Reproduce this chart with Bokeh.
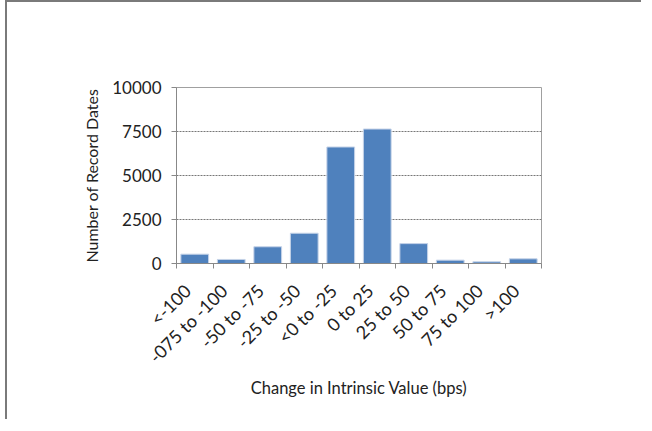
import math
from bokeh.plotting import figure
from bokeh.models import FixedTicker, Range1d, ColumnDataSource
from bokeh.embed import file_html
from bokeh.resources import INLINE

categories = ["<-100", "-075 to -100", "-50 to -75", "-25 to -50", "<0 to -25",
              "0 to 25", "25 to 50", "50 to 75", "75 to 100", ">100"]
counts = [530, 230, 950, 1720, 6620, 7640, 1130, 190, 95, 265]
y_ticks = [0, 2500, 5000, 7500, 10000]

xs = list(range(1, len(categories) + 1))
src = ColumnDataSource(dict(x=xs, top=counts))

FONT = "Lato"
p = figure(width=640, height=423, output_backend="svg", toolbar_location=None,
           x_range=Range1d(0.5, len(categories) + 0.5), y_range=Range1d(0, 10000),
           frame_width=365, frame_height=176,
           min_border_left=169, min_border_right=100, min_border_top=85, min_border_bottom=156)
p.styles = {"border-top": "2px solid #7a7a7a", "border-left": "2px solid #7a7a7a",
            "margin-left": "5px", "margin-top": "0px"}

p.vbar(x="x", top="top", width=0.76, source=src, fill_color="#4F81BD",
       line_color="#c5d3e8", line_width=1)

p.outline_line_color = "#a0a0a0"
p.outline_line_width = 1

# x axis: labels anchored slightly left of bar centres, ticks at category boundaries
label_pos = [x - 0.2 for x in xs]
xa = p.xaxis[0]
xa.ticker = FixedTicker(ticks=label_pos, minor_ticks=[i + 0.5 for i in range(0, len(categories) + 1)])
xa.major_label_overrides = {lp: c for lp, c in zip(label_pos, categories)}
xa.major_label_orientation = math.pi / 4
xa.major_tick_line_color = None
xa.minor_tick_line_color = "#888888"
xa.minor_tick_out = 5
xa.minor_tick_in = 0
xa.axis_line_color = "#888888"
xa.major_label_text_font = FONT
xa.major_label_text_font_size = "18px"
xa.major_label_text_color = "#222222"
xa.major_label_standoff = 18
xa.axis_label = "Change in Intrinsic Value (bps)"
xa.axis_label_text_font = FONT
xa.axis_label_text_font_size = "16.5px"
xa.axis_label_text_font_style = "normal"
xa.axis_label_text_color = "#222222"
xa.axis_label_standoff = 0

# y axis
ya = p.yaxis[0]
ya.ticker = FixedTicker(ticks=y_ticks)
ya.minor_tick_line_color = None
ya.major_tick_out = 5
ya.major_tick_in = 0
ya.major_tick_line_color = "#888888"
ya.axis_line_color = "#888888"
ya.major_label_text_font = FONT
ya.major_label_text_font_size = "17px"
ya.major_label_text_color = "#222222"
ya.major_label_standoff = 10
ya.axis_label = "Number of Record Dates"
ya.axis_label_text_font = FONT
ya.axis_label_text_font_size = "16px"
ya.axis_label_text_font_style = "normal"
ya.axis_label_text_color = "#222222"
ya.axis_label_standoff = 8

p.xgrid.grid_line_color = None
p.ygrid.grid_line_color = "#777777"
p.ygrid.grid_line_dash = "2 1"
p.ygrid.grid_line_width = 1

open("out.html", "w").write(file_html(p, INLINE))
